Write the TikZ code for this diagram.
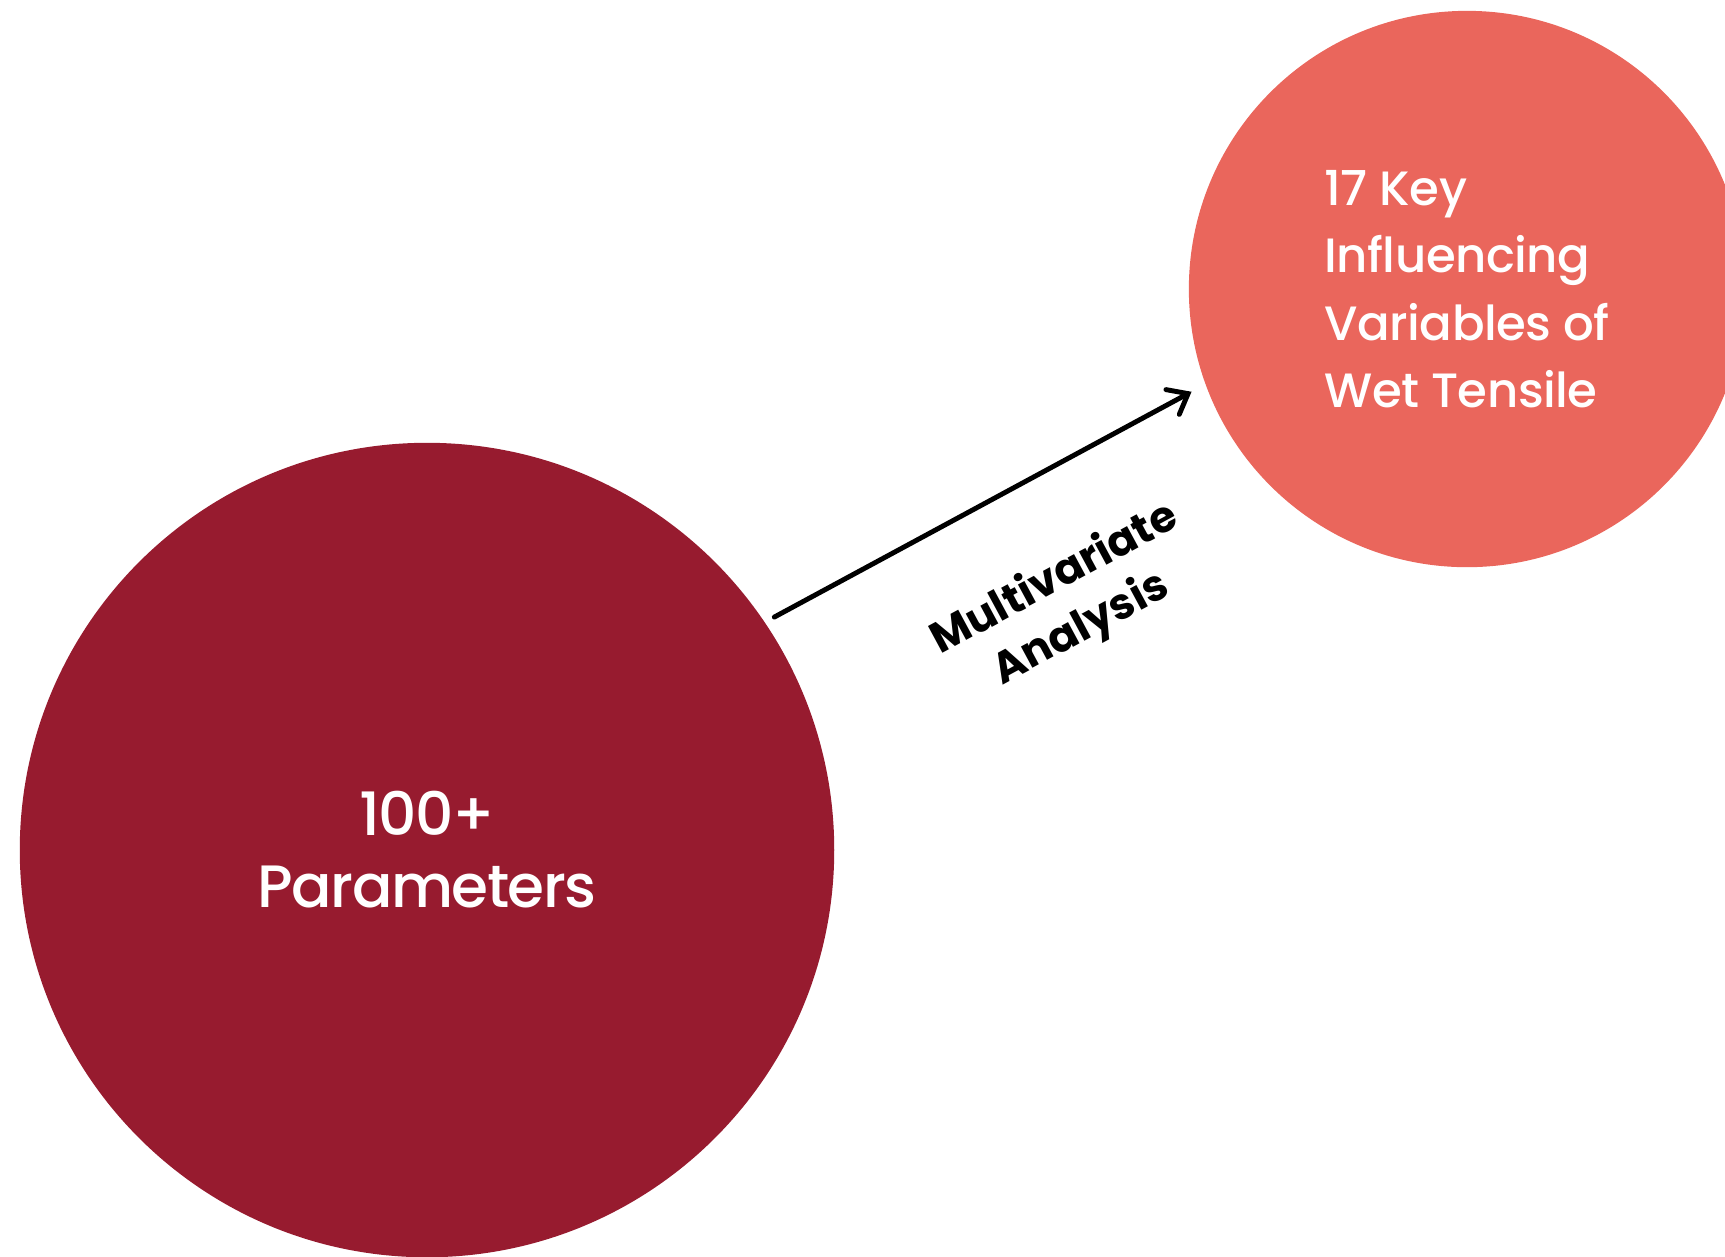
\documentclass[tikz,border=0pt]{standalone}
\usepackage{fontspec}
\setmainfont{Poppins}[UprightFont=* Medium,BoldFont=* Bold]
\usetikzlibrary{arrows.meta}
\definecolor{deepred}{RGB}{151,27,47}
\definecolor{coral}{RGB}{234,102,92}
\begin{document}
\begin{tikzpicture}[x=0.01cm,y=-0.01cm,
  blob/.style={circle,inner sep=0pt,outer sep=0pt,text=white},
  flow/.style={-{Straight Barb[length=5pt,width=8pt,line cap=round]},line width=1.4pt,line cap=round}]
  \useasboundingbox (0,0) rectangle (1725,1256);
  \node[blob,fill=deepred,minimum size=8.14cm,align=center,
    font=\fontsize{17}{20.5}\selectfont\addfontfeature{LetterSpace=-2.5}] (params) at (427,850) {100+\\Parameters};
  \node[blob,fill=coral,minimum size=5.56cm,align=left,
    font=\fontsize{13.7}{19.2}\selectfont\addfontfeature{LetterSpace=-1}] (keyvars) at (1467,289) {17 Key\\Influencing\\Variables of\\Wet Tensile};
  % analysis step
  \draw[flow,shorten <=0.11cm,shorten >=0.16cm] (params.34) -- (keyvars.200)
    node[pos=0.55,sloped,below=0.75cm,inner sep=0pt,align=center,
      font=\bfseries\fontsize{12.3}{16}\selectfont] (mva) {Multivariate\\Analysis};
\end{tikzpicture}
\end{document}
